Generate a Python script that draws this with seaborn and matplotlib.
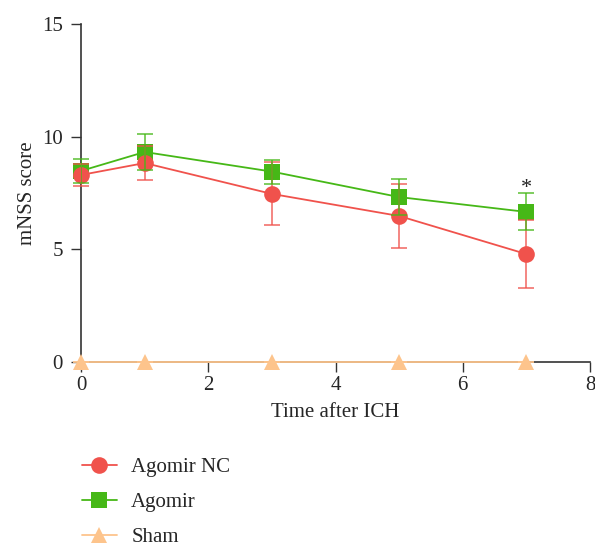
import matplotlib
matplotlib.use("Agg")
import matplotlib.pyplot as plt
import seaborn as sns
import pandas as pd
import numpy as np
from matplotlib.lines import Line2D

days = [0, 1, 3, 5, 7]
groups = ["Agomir NC", "Agomir", "Sham"]
nc_mean = [8.3, 8.83, 7.46, 6.48, 4.79]
nc_sd = [0.5, 0.75, 1.4, 1.4, 1.5]
ag_mean = [8.48, 9.32, 8.45, 7.32, 6.66]
ag_sd = [0.52, 0.8, 0.53, 0.8, 0.82]
sham_mean = [0, 0, 0, 0, 0]
sham_sd = [0, 0, 0, 0, 0]
star_day = 7
star_y = 7.3

colors = {"Agomir NC": "#F0524C", "Agomir": "#46B817", "Sham": "#FDC48C"}
markers = {"Agomir NC": "o", "Agomir": "s", "Sham": "^"}
msizes = {"Agomir NC": 12, "Agomir": 11, "Sham": 11}
zorders = {"Agomir NC": 5, "Agomir": 4, "Sham": 4}

sns.set_theme(style="ticks")
plt.rcParams["font.family"] = ["Liberation Serif", "DejaVu Serif"]

df = pd.DataFrame({
    "day": days * 3,
    "score": nc_mean + ag_mean + sham_mean,
    "sd": nc_sd + ag_sd + sham_sd,
    "group": [groups[0]] * 5 + [groups[1]] * 5 + [groups[2]] * 5,
})

fig = plt.figure(figsize=(5.95, 5.48), dpi=100)
ax = fig.add_axes([81 / 595, 1 - 362 / 548, (590 - 81) / 595, (362 - 24) / 548])

sns.lineplot(data=df, x="day", y="score", hue="group", style="group",
             palette=colors, markers=markers, dashes=False, ax=ax,
             linewidth=1.3, legend=False)
for line in list(ax.lines):
    c = matplotlib.colors.to_hex(line.get_color())
    g = [k for k, v in colors.items() if v.lower() == c.lower()]
    if g:
        line.set_markersize(msizes[g[0]])
        line.set_zorder(zorders[g[0]])
    line.set_markeredgewidth(0)
    line.set_clip_on(False)

for g in groups:
    sub = df[df.group == g]
    _, caps, bars = ax.errorbar(sub.day, sub.score, yerr=sub.sd, fmt="none",
                                ecolor=colors[g], alpha=0.75, elinewidth=1.3,
                                capsize=6, capthick=1.3, zorder=6)
    for c in caps:
        c.set_clip_on(False)

ax.text(star_day, star_y, "*", ha="center", va="bottom", fontsize=16, color="#222222")

ax.set_xlim(0, 8)
ax.set_ylim(0, 15)
ax.set_xticks([0, 2, 4, 6, 8])
ax.set_yticks([0, 5, 10, 15])
ax.set_xlabel("Time after ICH", fontsize=15, labelpad=6)
ax.set_ylabel("mNSS score", fontsize=15, labelpad=4)
ax.tick_params(labelsize=15, length=7, width=1, color="#333333", direction="out", pad=6)
ax.tick_params(axis="x", pad=3)
for s in ["top", "right"]:
    ax.spines[s].set_visible(False)
for s in ["left", "bottom"]:
    ax.spines[s].set_color("#333333")
    ax.spines[s].set_linewidth(1.2)
    ax.spines[s].set_zorder(1)

handles = [Line2D([], [], color=colors[g], marker=markers[g], markersize=msizes[g],
                  markeredgewidth=0, linewidth=1.3) for g in groups]
fig.legend(handles, groups, loc="upper left", bbox_to_anchor=(76 / 595, 1 - 451 / 548),
           frameon=False, fontsize=15, labelspacing=0.75, handlelength=1.65,
           handletextpad=0.7, borderaxespad=0, borderpad=0.3)

fig.savefig("out.png", dpi=100)
